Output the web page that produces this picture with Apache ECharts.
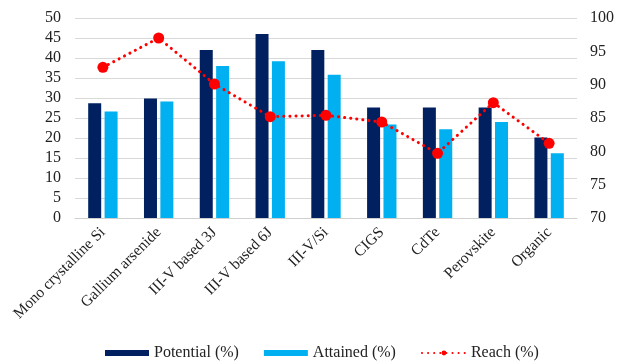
<!DOCTYPE html>
<html>
<head>
<meta charset="utf-8">
<script src="https://cdn.jsdelivr.net/npm/echarts@6/dist/echarts.min.js"></script>
<style>
  html, body { margin: 0; padding: 0; background: #fff; }
  #chart { width: 617px; height: 362px; }
</style>
</head>
<body>
<div id="chart"></div>
<script>
// Solar cell technologies: potential vs attained efficiency, and the share reached
const categories = ['Mono crystalline Si', 'Gallium arsenide', 'III-V based 3J', 'III-V based 6J', 'III-V/Si', 'CIGS', 'CdTe', 'Perovskite', 'Organic'];
const potential = [28.7, 29.9, 42, 46, 42, 27.6, 27.6, 27.6, 20.1];
const attained = [26.6, 29.1, 38, 39.2, 35.8, 23.4, 22.2, 24, 16.2];
const reach = [92.6, 97, 90.1, 85.2, 85.4, 84.4, 79.7, 87.3, 81.2];

const font = 'Liberation Serif, "Times New Roman", serif';
const chart = echarts.init(document.getElementById('chart'));
chart.setOption({
  animation: false,
  textStyle: { fontFamily: font },
  grid: { left: 75, right: 34, top: 18, bottom: 144 },
  legend: {
    bottom: 1,
    left: 105,
    padding: 0,
    itemWidth: 44,
    itemHeight: 6,
    itemGap: 25,
    textStyle: { fontFamily: font, fontSize: 16, color: '#222' },
    data: [
      { name: 'Potential (%)', icon: 'rect' },
      { name: 'Attained (%)', icon: 'rect' },
      { name: 'Reach (%)' }
    ]
  },
  xAxis: {
    type: 'category',
    data: categories,
    axisTick: { show: false },
    axisLine: { lineStyle: { color: '#d0d0d0', width: 1 } },
    axisLabel: { rotate: 45, fontFamily: font, fontSize: 15.5, color: '#222', margin: 12, interval: 0 }
  },
  yAxis: [
    {
      type: 'value', min: 0, max: 50, interval: 5,
      axisLine: { show: false }, axisTick: { show: false },
      axisLabel: { fontFamily: font, fontSize: 16, color: '#222', margin: 14 },
      splitLine: { lineStyle: { color: '#d9d9d9', width: 1 } }
    },
    {
      type: 'value', min: 70, max: 100, interval: 5,
      axisLine: { show: false }, axisTick: { show: false },
      axisLabel: { fontFamily: font, fontSize: 16, color: '#222', margin: 13 },
      splitLine: { show: false }
    }
  ],
  series: [
    {
      name: 'Potential (%)', type: 'bar', data: potential,
      barWidth: 13, barGap: '26%',
      itemStyle: { color: '#002060' }
    },
    {
      name: 'Attained (%)', type: 'bar', data: attained,
      barWidth: 13,
      itemStyle: { color: '#00b0f0' }
    },
    {
      name: 'Reach (%)', type: 'line', yAxisIndex: 1, data: reach,
      symbol: 'circle', symbolSize: 11,
      itemStyle: { color: '#ff0000' },
      lineStyle: { color: '#ff0000', width: 3, type: [0.1, 6], cap: 'round' },
      z: 5
    }
  ]
});
</script>
</body>
</html>
